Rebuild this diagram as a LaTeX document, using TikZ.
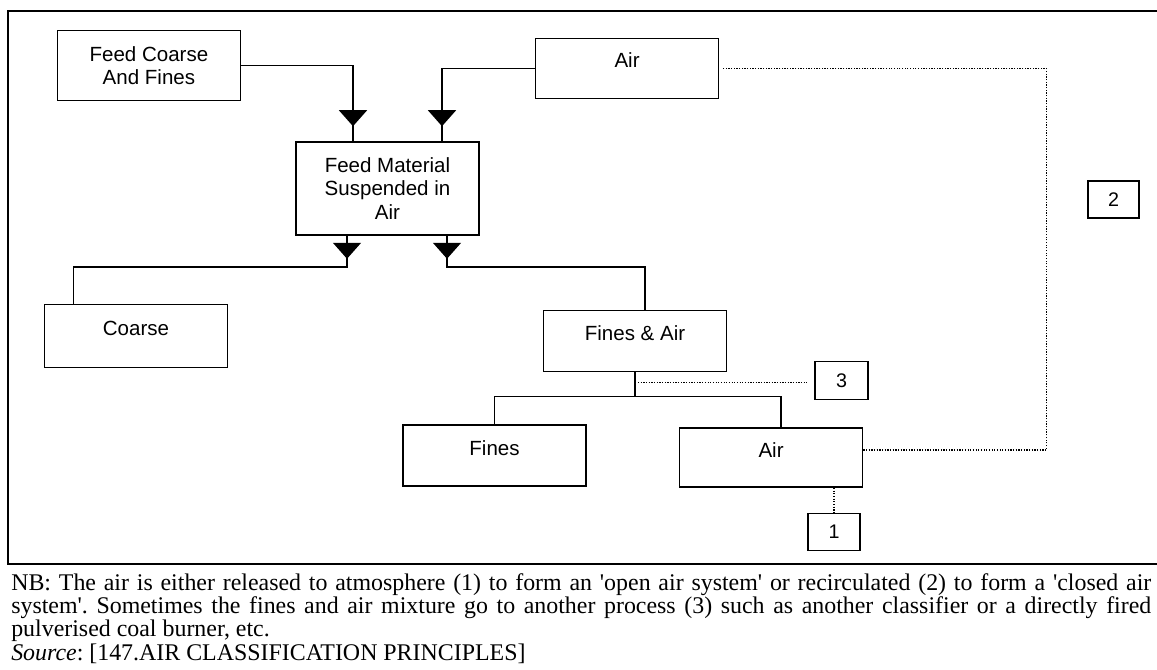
\documentclass[tikz,border=0pt]{standalone}
\usepackage{fontspec}
\setmainfont{Liberation Serif}
\setsansfont{Liberation Sans}
\usepackage{tikz}
\usetikzlibrary{arrows.meta, positioning, decorations.markings}

\begin{document}
\begin{tikzpicture}[node distance=1cm, font=\sffamily\fontsize{14.6pt}{16.7pt}\selectfont]
    \tikzstyle{block} = [rectangle, draw, line width=1.1pt, minimum width=4.575cm, minimum height=1.5cm, align=center, inner sep=2pt]
    \tikzstyle{onerow} = [text depth=0.4cm]
    \tikzstyle{tag} = [rectangle, draw, line width=1.1pt, inner sep=1pt, font=\sffamily\fontsize{14pt}{16pt}\selectfont]
    \tikzstyle{line} = [draw, line width=1.1pt]
    \tikzstyle{dotline} = [draw, densely dotted, line width=0.9pt]
    \tikzstyle{tipin} = [postaction={decorate}, decoration={markings, mark=at position -0.375cm with {\arrow{Triangle[width=0.7cm, length=0.4cm]}}}]
    \tikzstyle{tipout} = [postaction={decorate}, decoration={markings, mark=at position 0.575cm with {\arrow{Triangle[width=0.7cm, length=0.4cm]}}}]

    \useasboundingbox (0,0) rectangle (28.925,-16.75);
    \draw [line width=2pt] (28.925,-0.275) -- (0.2,-0.275) -- (0.2,-14.1) -- (28.925,-14.1);

    \node [block, minimum height=2.325cm] (feedmat) at (9.6875,-4.7125) {Feed Material\\Suspended in\\Air};
    \node [block, minimum height=1.75cm, above left=1cm and 1.35cm of feedmat] (feed) {Feed Coarse\\And Fines};
    \node [block, onerow, above right=1.05cm and 1.375cm of feedmat] (airtop) {Air};
    \node [block, onerow, minimum height=1.575cm, below left=1.7cm and 1.675cm of feedmat] (coarse) {Coarse};
    \node [block, onerow, minimum height=1.525cm, below right=1.85cm and 1.575cm of feedmat] (finesair) {Fines \& Air};
    \node [block, onerow, minimum height=1.525cm, below=1.3cm of finesair, xshift=-3.5125cm] (fines) {Fines};
    \node [block, onerow, minimum height=1.475cm, below=1.375cm of finesair, xshift=3.4cm] (airbot) {Air};
    \node [tag, minimum width=1.325cm, minimum height=0.95cm, right=2.175cm of finesair, yshift=-0.9875cm] (three) {3};
    \node [tag, minimum width=1.3cm, minimum height=0.925cm, below=0.625cm of airbot, xshift=1.575cm] (one) {1};
    \node [tag, minimum width=1.275cm, minimum height=0.925cm] (two) at (27.8375,-4.9875) {2};
    \coordinate [below=0.6cm of finesair] (split);
    \coordinate [below=0.25cm of finesair] (tap);

    \path [line, tipin] (feed.east) -| ([xshift=-0.8625cm]feedmat.north);
    \path [line, tipin] (airtop.west) -| ([xshift=1.3625cm]feedmat.north);
    \path [line, tipout] ([xshift=-1.0125cm]feedmat.south) -- ++(0,-0.775) -| ([xshift=-1.5625cm]coarse.north);
    \path [line, tipout] ([xshift=1.4875cm]feedmat.south) -- ++(0,-0.775) -| ([xshift=0.25cm]finesair.north);
    \path [line] (finesair) -- (split);
    \path [line] (split) -| (fines.north);
    \path [line] (split) -| ([xshift=0.25cm]airbot.north);
    \path [dotline, shorten >=0.175cm] ([xshift=0.075cm]tap) -- (tap -| three.west);
    \path [dotline] ([yshift=0.1875cm]airbot.east) -- ++(4.575,0) |- ([xshift=0.075cm]airtop.east);
    \path [dotline] (one.north |- airbot.south) -- (one);

    \node [anchor=north west, inner sep=0pt, text width=28.5cm, align=justify, font=\rmfamily\fontsize{17pt}{16.6pt}\selectfont] (note) at (0.275,-14.33)
        {\frenchspacing NB: The air is either released to atmosphere (1) to form an \textquotesingle open air system\textquotesingle{} or recirculated (2) to form a \textquotesingle closed air\linebreak
         system\textquotesingle. Sometimes the fines and air mixture go to another process (3) such as another classifier or a directly fired\linebreak
         pulverised coal burner, etc.\\
         \textit{Source}: [147.AIR CLASSIFICATION PRINCIPLES]};
\end{tikzpicture}
\end{document}
